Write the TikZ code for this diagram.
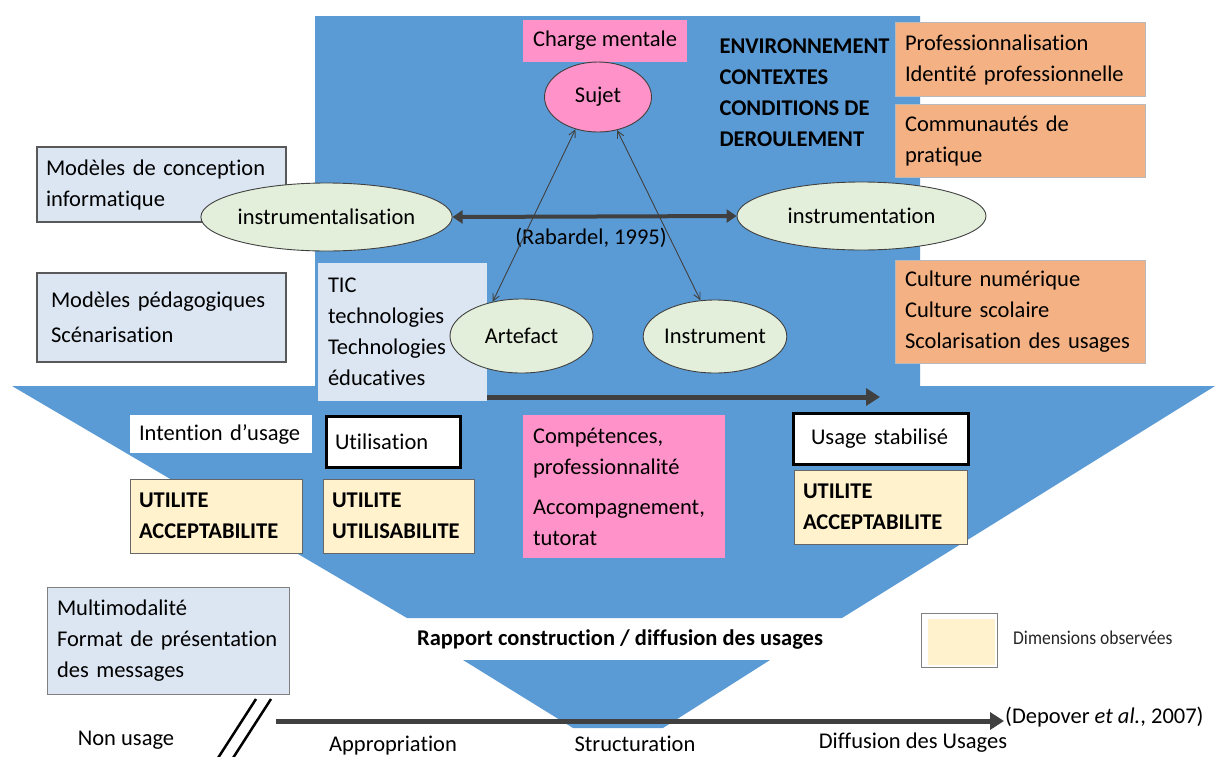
\documentclass[tikz,border=0pt]{standalone}
\usepackage{fontspec}
\setmainfont{Carlito}[Ligatures=NoCommon]
\usetikzlibrary{arrows.meta,shapes.geometric}
\hyphenpenalty=10000
\exhyphenpenalty=10000
\definecolor{bblue}{HTML}{5B9BD5}
\definecolor{lblue}{HTML}{DCE6F2}
\definecolor{lgreen}{HTML}{E3EFDA}
\definecolor{pinkc}{HTML}{FF93C9}
\definecolor{orangec}{HTML}{F4B183}
\definecolor{yellowc}{HTML}{FFF2CC}
\definecolor{darkc}{HTML}{404040}
\definecolor{edgec}{HTML}{595959}
\begin{document}
\begin{tikzpicture}[x=1pt,y=-1pt,
  every node/.style={font=\fontsize{22.5}{31}\selectfont, text=black},
  bold/.style={font=\fontsize{22.5}{31}\selectfont\bfseries},
  boxbase/.style={rectangle, inner ysep=0pt, align=left, anchor=center},
  lbbox/.style={boxbase, fill=lblue, draw=edgec, line width=1.2pt},
  tbox/.style={boxbase, fill=lblue},
  orbox/.style={boxbase, fill=orangec, draw=gray!55, line width=0.8pt, inner xsep=10pt, minimum width=250pt, text width=230pt},
  ybox/.style={boxbase, fill=yellowc, draw=gray!80!black, line width=1pt, font=\fontsize{22.5}{31}\selectfont\bfseries},
  wbox/.style={boxbase, fill=white},
  blkbox/.style={boxbase, fill=white, draw=black, line width=3pt},
  pbox/.style={boxbase, fill=pinkc},
  ell/.style={ellipse, fill=lgreen, draw=darkc, line width=0.9pt, inner sep=0pt},
  bigarrow/.style={draw=darkc, line width=5pt, -{Triangle[length=14pt,width=17pt]}},
  dblarrow/.style={draw=darkc, line width=4pt, {Triangle[length=10pt,width=13pt]}-{Triangle[length=10pt,width=13pt]}},
  thinarrow/.style={draw=darkc, line width=0.9pt, {Straight Barb[length=7pt,width=7pt]}-{Straight Barb[length=7pt,width=7pt]}}
]
\useasboundingbox (0,0) rectangle (1215,756);
\fill[white] (0,0) rectangle (1215,756);

% blue arrow shape
\fill[bblue] (315,16) -- (920,16) -- (920,386) -- (1215,386) -- (842,618) -- (407,618) -- (12,386) -- (315,386) -- cycle;
\fill[bblue] (463,660) -- (770,660) -- (663,728) -- (573,728) -- cycle;

% top part
\node[pbox, align=center, minimum width=164pt, minimum height=42pt] (charge) at (605,41) {Charge mentale};
\node[ellipse, fill=pinkc, draw=darkc, line width=0.9pt, inner sep=0pt, minimum width=107pt, minimum height=70pt] (sujet) at (598,97) {Sujet};
\node[anchor=west, align=left, bold] (env) at (716,93) {ENVIRONNEMENT\\CONTEXTES\\CONDITIONS DE\\DEROULEMENT};

\node[orbox, minimum height=74pt] (o1) at (1020,59.5) {Professionnalisation\\Identité professionnelle};
\node[orbox, minimum height=73pt] (o2) at (1020,140.5) {Communautés de\\pratique};
\node[orbox, minimum height=103pt] (o3) at (1020,311.5) {Culture numérique\\Culture scolaire\\Scolarisation des usages};

\node[lbbox, minimum width=249pt, minimum height=75pt, inner xsep=9pt, text width=231pt] (mci) at (161.5,184.5) {Modèles de conception\\informatique};
\node[lbbox, minimum width=249pt, minimum height=89pt, inner xsep=14pt, text width=221pt] (mp) at (161.5,317.5) {Modèles pédagogiques\\[4pt]Scénarisation};
\node[tbox, minimum width=169pt, minimum height=138pt, inner xsep=10pt, text width=149pt] (tic) at (402.5,332) {TIC\\technologies\\Technologies\\éducatives};

\node[ell, minimum width=249pt, minimum height=68pt] (imz) at (326.5,217) {instrumentalisation};
\node[ell, minimum width=249pt, minimum height=68pt] (imn) at (861.5,216) {instrumentation};
\node[ell, minimum width=143pt, minimum height=74pt] (art) at (521.5,336) {Artefact};
\node[ell, minimum width=120pt, minimum height=73pt] (inst) at (715,336.5) {Instrument};

\draw[dblarrow] (imz.east) -- (imn.west);
\node (rab) at (591,238) {(Rabardel, 1995)};
\draw[thinarrow] (art.130) -- (sujet.235);
\draw[thinarrow] (inst.112) -- (sujet.300);

\coordinate (t1) at (880,397);
\draw[bigarrow] (tic.east |- t1) -- (t1);

% middle row
\node[wbox, minimum width=182pt, minimum height=38pt, inner xsep=9pt, text width=164pt] (intent) at (221,434) {Intention d’usage};
\node[blkbox, minimum width=134pt, minimum height=51pt, inner xsep=9pt, text width=116pt] (util) at (393,441.5) {Utilisation};
\node[ybox, minimum width=172pt, minimum height=74pt, inner xsep=9pt, text width=154pt] (ua1) at (216,516) {UTILITE\\ACCEPTABILITE};
\node[ybox, minimum width=151pt, minimum height=74pt, inner xsep=9pt, text width=133pt] (uu) at (398.5,516) {UTILITE\\UTILISABILITE};
\node[pbox, minimum width=202pt, minimum height=143pt, inner xsep=10pt, text width=182pt] (comp) at (624,486.5) {Compétences,\\professionnalité\\[9pt]Accompagnement,\\tutorat};
\node[blkbox, minimum width=175pt, minimum height=51pt, inner xsep=18pt, text width=139pt] (us) at (880.5,438.5) {Usage stabilisé};
\node[ybox, minimum width=173pt, minimum height=74pt, inner xsep=9pt, text width=155pt] (ua2) at (880.5,507) {UTILITE\\ACCEPTABILITE};

% lower part
\node[lbbox, minimum width=242pt, minimum height=107pt, inner xsep=10pt, text width=222pt, line width=1pt, draw=gray] (mm) at (168,640.5) {Multimodalité\\Format de présentation\\des messages};
\node[bold] (rapport) at (620,640) {Rapport construction / diffusion des usages};

\node[draw=gray, line width=1pt, fill=white, minimum width=76pt, minimum height=54pt, inner sep=0pt] (leg) at (959,640) {};
\fill[yellowc] (928,619) rectangle (995,665);
\node[anchor=west, font=\fontsize{19.5}{22}\selectfont, xscale=0.9, text=black!85] (dim) at (1010,638) {Dimensions observées};

% bottom axis
\coordinate (b0) at (276,721);
\node[anchor=west, inner sep=1pt] (dep) at (1004,717) {(Depover \textit{et al.}, 2007)};
\draw[bigarrow] (b0) -- (b0 -| dep.west);
\draw[line width=2.5pt, black] (256,699) -- (218,758);
\draw[line width=2.5pt, black] (271,699) -- (233,758);

\node (nonusage) at (126,740) {Non usage};
\node (appro) at (393,746) {Appropriation};
\node[anchor=base, inner sep=0pt] (struct) at (635,751) {Structuration};
\node (diff) at (913,743) {Diffusion des Usages};
\end{tikzpicture}
\end{document}
